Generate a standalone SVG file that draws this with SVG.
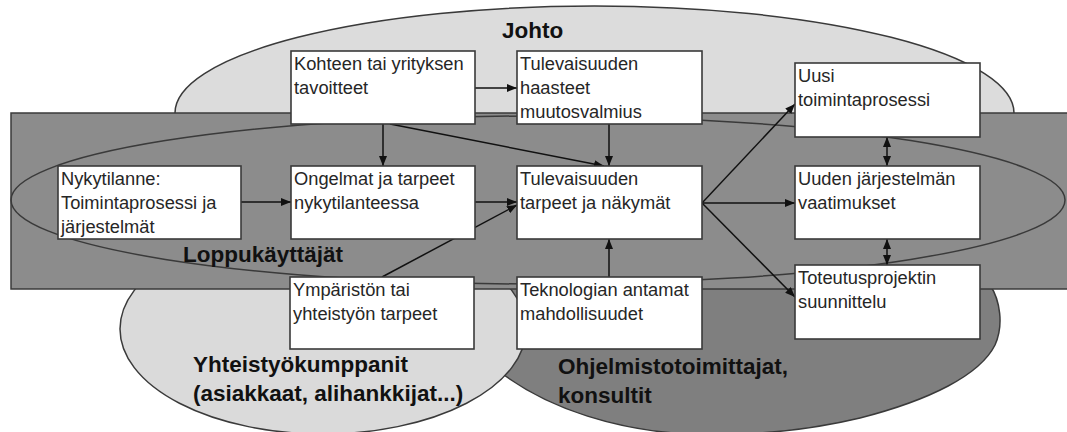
<svg xmlns="http://www.w3.org/2000/svg" width="1067" height="432" viewBox="0 0 1067 432">
<style>
.bg{stroke:#3a3a3a;stroke-width:1.5}
.box rect{fill:#fff;stroke:#3a3a3a;stroke-width:1.6}
.box text{font-family:"Liberation Sans",Arial,sans-serif;font-size:18.3px;fill:#262626}
.lbl{font-family:"Liberation Sans",Arial,sans-serif;font-size:22.5px;font-weight:bold;fill:#111}
.c line{stroke:#111;stroke-width:1.5;fill:none}
</style>
<defs>
<marker id="ah" viewBox="0 0 10 8" markerWidth="10" markerHeight="8" refX="10" refY="4" orient="auto-start-reverse" markerUnits="userSpaceOnUse">
<path d="M0,0 L10,4 L0,8 z" fill="#111"/>
</marker>
</defs>
<rect width="1067" height="432" fill="#fff"/>
<g id="background">
<ellipse class="bg" cx="594.5" cy="113" rx="419.5" ry="107" fill="#dcdcdc"/>
<path class="bg" d="M990,285 C1000,300 1004,325 995,345 C980,375 930,400 860,418 C810,430 750,436 690,434 C620,431 550,410 500,372 C470,350 470,310 480,285 Z" fill="#7f7f7f"/>
<ellipse class="bg" cx="323" cy="329" rx="203" ry="105" fill="#dadada"/>
<rect class="bg" x="11" y="113" width="1070" height="176" fill="#8c8c8c"/>
<ellipse class="bg" cx="538" cy="200" rx="527" ry="84" fill="none"/>
</g>
<g id="connectors" class="c">
<line x1="475" y1="88" x2="517" y2="88" marker-end="url(#ah)"/>
<line x1="383" y1="124" x2="383" y2="166" marker-end="url(#ah)"/>
<line x1="390" y1="124" x2="604" y2="166" marker-end="url(#ah)"/>
<line x1="609" y1="124" x2="609" y2="166" marker-end="url(#ah)"/>
<line x1="241" y1="202" x2="291" y2="202" marker-end="url(#ah)"/>
<line x1="475" y1="202" x2="517" y2="202" marker-end="url(#ah)"/>
<line x1="382" y1="277" x2="517" y2="205" marker-end="url(#ah)"/>
<line x1="609" y1="277" x2="609" y2="239" marker-end="url(#ah)"/>
<line x1="702" y1="203" x2="795" y2="104" marker-end="url(#ah)"/>
<line x1="702" y1="203" x2="795" y2="203" marker-end="url(#ah)"/>
<line x1="702" y1="203" x2="795" y2="297" marker-end="url(#ah)"/>
<line x1="887" y1="137" x2="887" y2="166" marker-start="url(#ah)" marker-end="url(#ah)"/>
<line x1="887" y1="239" x2="887" y2="265" marker-start="url(#ah)" marker-end="url(#ah)"/>
</g>
<g id="n1" class="box"><rect x="291" y="51" width="184" height="73"/><text x="294" y="70">Kohteen tai yrityksen</text><text x="294" y="94">tavoitteet</text></g>
<g id="n2" class="box"><rect x="517" y="51" width="185" height="73"/><text x="520" y="70">Tulevaisuuden</text><text x="520" y="94">haasteet</text><text x="520" y="118">muutosvalmius</text></g>
<g id="n3" class="box"><rect x="795" y="63" width="185" height="74"/><text x="798" y="82">Uusi</text><text x="798" y="106">toimintaprosessi</text></g>
<g id="n4" class="box"><rect x="58" y="166" width="183" height="73"/><text x="61" y="185">Nykytilanne:</text><text x="61" y="209">Toimintaprosessi ja</text><text x="61" y="233">järjestelmät</text></g>
<g id="n5" class="box"><rect x="291" y="166" width="184" height="73"/><text x="294" y="185">Ongelmat ja tarpeet</text><text x="294" y="209">nykytilanteessa</text></g>
<g id="n6" class="box"><rect x="517" y="166" width="185" height="73"/><text x="520" y="185">Tulevaisuuden</text><text x="520" y="209">tarpeet ja näkymät</text></g>
<g id="n7" class="box"><rect x="795" y="166" width="185" height="73"/><text x="798" y="185">Uuden järjestelmän</text><text x="798" y="209">vaatimukset</text></g>
<g id="n8" class="box"><rect x="290" y="277" width="184" height="72"/><text x="293" y="296">Ympäristön tai</text><text x="293" y="320">yhteistyön tarpeet</text></g>
<g id="n9" class="box"><rect x="517" y="277" width="185" height="72"/><text x="520" y="296">Teknologian antamat</text><text x="520" y="320">mahdollisuudet</text></g>
<g id="n10" class="box"><rect x="795" y="265" width="185" height="74"/><text x="798" y="284">Toteutusprojektin</text><text x="798" y="308">suunnittelu</text></g>
<g id="labels">
<text class="lbl" x="502" y="38">Johto</text>
<text class="lbl" x="183" y="262">Loppukäyttäjät</text>
<text class="lbl" x="193" y="372">Yhteistyökumppanit</text>
<text class="lbl" x="193" y="401">(asiakkaat, alihankkijat...)</text>
<text class="lbl" x="558" y="374">Ohjelmistotoimittajat,</text>
<text class="lbl" x="558" y="403">konsultit</text>
</g>
</svg>
